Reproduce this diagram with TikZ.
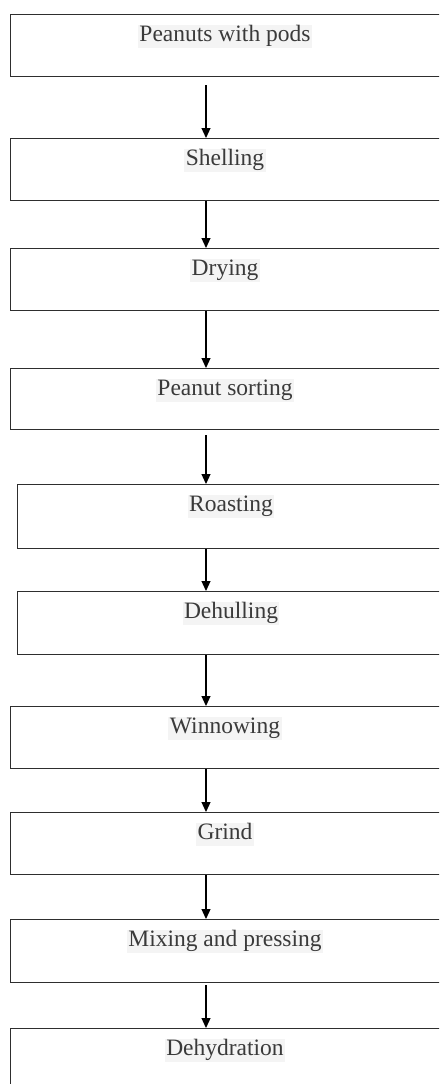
\documentclass[tikz,border=0pt]{standalone}
\usepackage{fontspec}
\setmainfont{Liberation Serif}
\usetikzlibrary{arrows.meta}
\definecolor{boxline}{HTML}{2E2E2E}
\definecolor{txt}{HTML}{3A3A3A}
\definecolor{hl}{HTML}{F4F4F4}
\tikzset{
  stepbox/.style={draw=boxline, line width=1.4pt, rectangle, inner sep=0pt, anchor=north west, minimum width=460pt},
  lbl/.style={fill=hl, text=txt, inner xsep=1.5pt, inner ysep=0pt, text height=17pt, text depth=6pt, font=\fontsize{23.5}{28}\selectfont},
  arr/.style={draw=black, line width=1.2pt, -{Triangle[width=9pt,length=10pt]}}
}
\begin{document}
\begin{tikzpicture}[x=1pt,y=-1pt]
\useasboundingbox (0,0) rectangle (439,1084);
\clip (0,0) rectangle (439,1084);
\fill[white] (0,0) rectangle (439,1084);
\coordinate (ax) at (206,0);
% boxes
\node[stepbox, minimum height=62pt] (b1) at (10,14) {};
\node[stepbox, minimum height=62pt] (b2) at (10,138) {};
\node[stepbox, minimum height=62pt] (b3) at (10,248) {};
\node[stepbox, minimum height=61pt] (b4) at (10,368) {};
\node[stepbox, minimum height=64pt] (b5) at (17,484) {};
\node[stepbox, minimum height=63pt] (b6) at (17,591) {};
\node[stepbox, minimum height=62pt] (b7) at (10,706) {};
\node[stepbox, minimum height=62pt] (b8) at (10,812) {};
\node[stepbox, minimum height=63pt] (b9) at (10,919) {};
\node[stepbox, minimum height=70pt] (b10) at (10,1028) {};
% labels
\node[lbl] (t1) at (225,36) {Peanuts with pods};
\node[lbl] (t2) at (225,160) {Shelling};
\node[lbl] (t3) at (225,270) {Drying};
\node[lbl] (t4) at (225,390) {Peanut sorting};
\node[lbl] (t5) at (231,506) {Roasting};
\node[lbl] (t6) at (231,613) {Dehulling};
\node[lbl] (t7) at (225,728) {Winnowing\ };
\node[lbl] (t8) at (225,834) {Grind};
\node[lbl] (t9) at (225,941) {Mixing and pressing\ };
\node[lbl] (t10) at (225,1050) {Dehydration};
% arrows
\draw[arr] ([yshift=-8pt]ax |- b1.south) -- (ax |- b2.north);
\draw[arr] (ax |- b2.south) -- (ax |- b3.north);
\draw[arr] (ax |- b3.south) -- (ax |- b4.north);
\draw[arr] ([yshift=-5pt]ax |- b4.south) -- (ax |- b5.north);
\draw[arr] (ax |- b5.south) -- (ax |- b6.north);
\draw[arr] (ax |- b6.south) -- (ax |- b7.north);
\draw[arr] (ax |- b7.south) -- (ax |- b8.north);
\draw[arr] (ax |- b8.south) -- (ax |- b9.north);
\draw[arr] ([yshift=-2pt]ax |- b9.south) -- (ax |- b10.north);
\end{tikzpicture}
\end{document}
